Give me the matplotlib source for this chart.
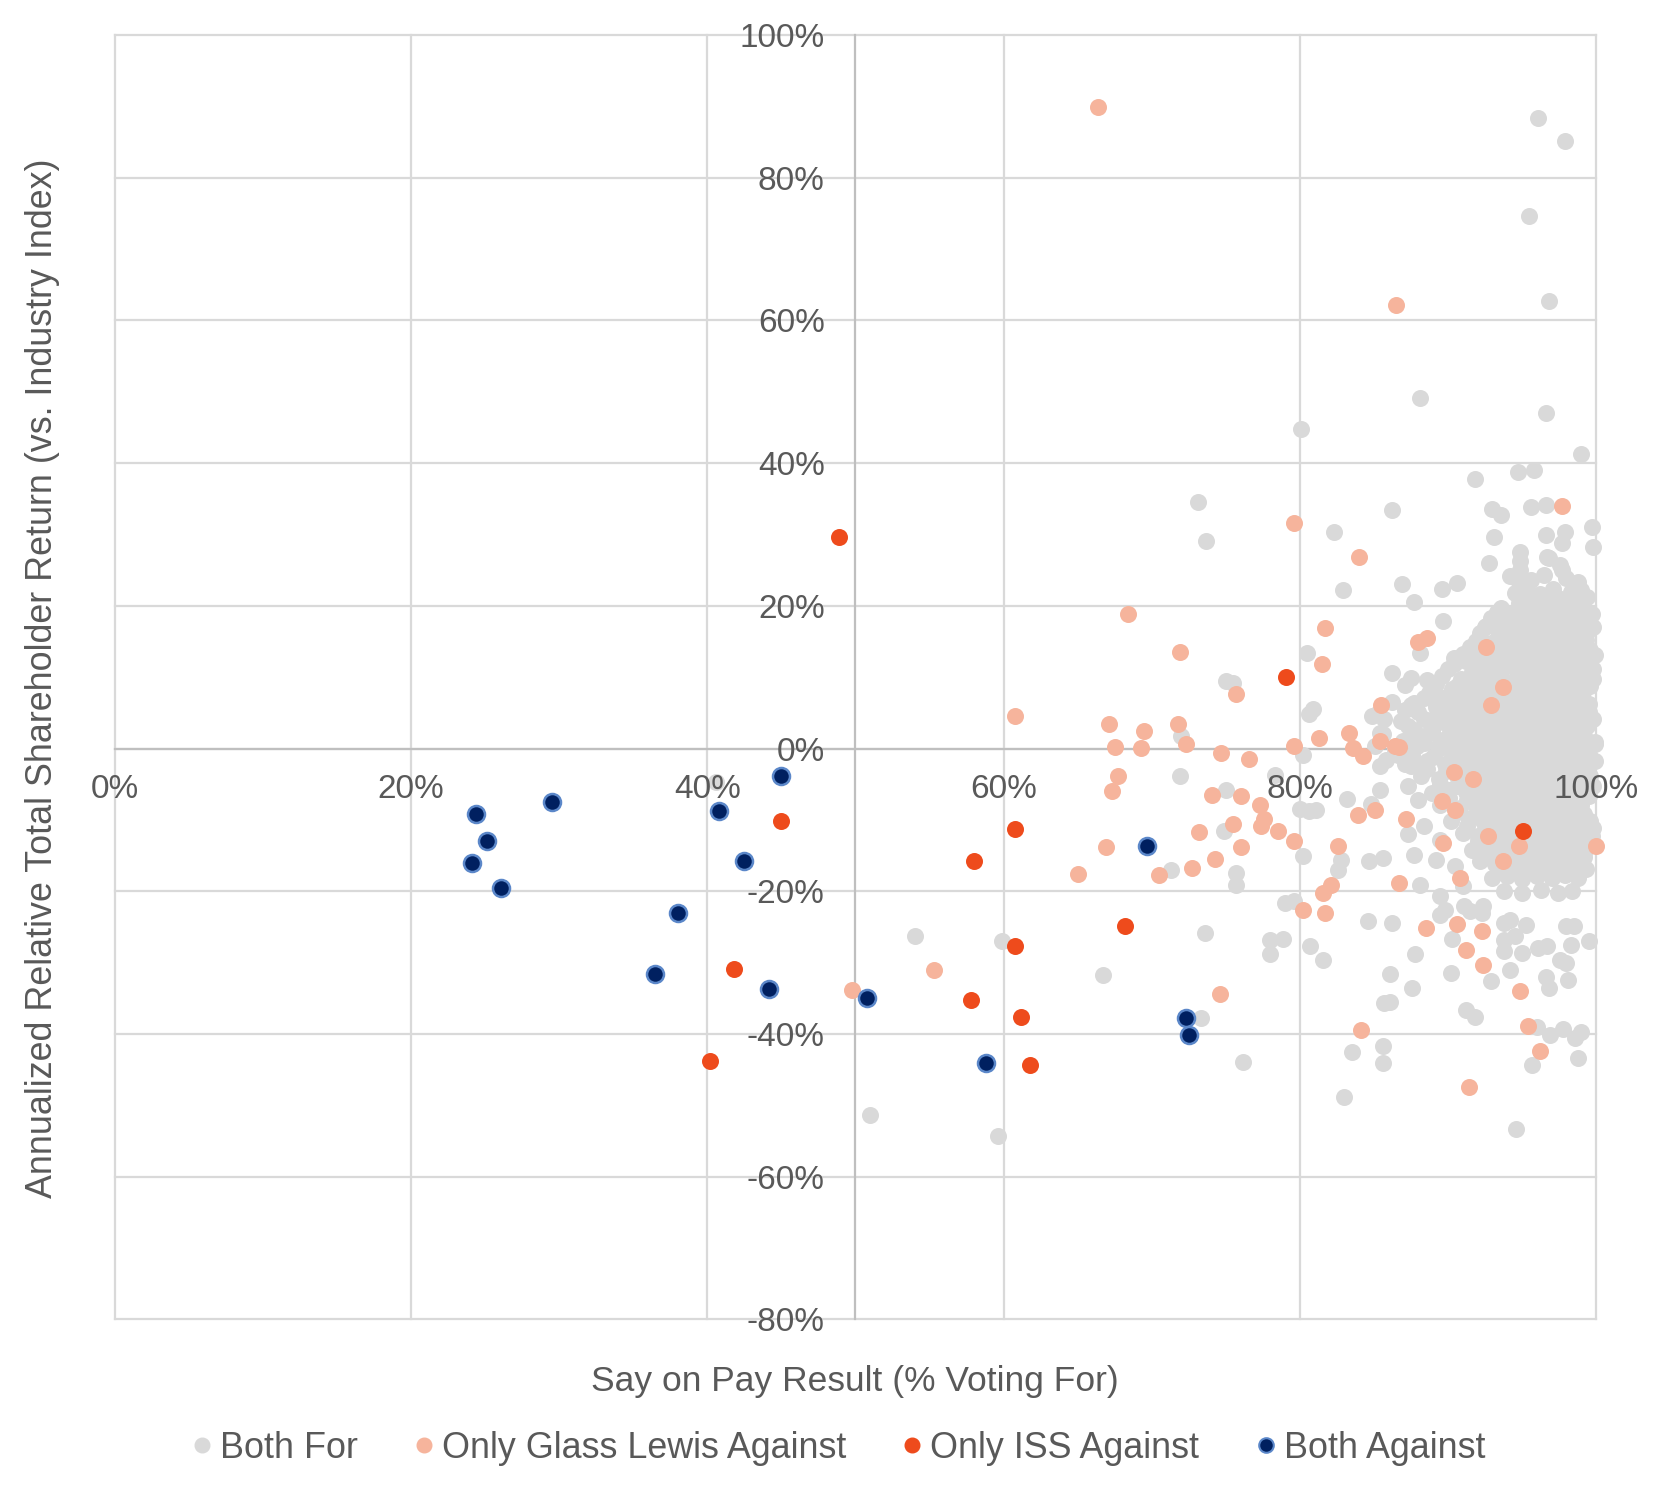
import matplotlib
matplotlib.use("Agg")
import matplotlib.pyplot as plt
from matplotlib.lines import Line2D

plt.rcParams['font.family'] = ['Liberation Sans', 'DejaVu Sans']

# ---------------- data (x = % voting for, y = relative TSR %) ----------------
both_against_x = [24.4, 25.1, 24.1, 26.1, 29.5, 40.8, 45.0, 42.5, 38.0, 36.5, 44.2, 50.8, 58.8, 69.7, 72.3, 72.5]
both_against_y = [-9.1, -12.9, -16.0, -19.6, -7.5, -8.7, -3.8, -15.8, -23.0, -31.6, -33.7, -34.9, -44.1, -13.7, -37.7, -40.2]

only_iss_x = [48.9, 45.0, 41.8, 40.2, 58.0, 60.8, 60.8, 57.8, 61.2, 61.8, 68.2, 79.1, 95.1]
only_iss_y = [29.6, -10.1, -30.9, -43.8, -15.8, -11.2, -27.6, -35.2, -37.6, -44.4, -24.8, 10.1, -11.6]

only_gl = [
    (66.4, 89.9), (86.5, 62.2), (97.7, 34.0), (79.6, 31.6), (84.0, 26.9), (68.4, 18.9),
    (81.7, 16.9), (88.0, 15.0), (88.6, 15.5), (71.9, 13.5), (81.5, 11.8), (75.7, 7.7),
    (92.6, 14.3), (93.7, 8.7), (92.9, 6.1), (85.5, 6.1), (60.8, 4.5), (67.1, 3.5),
    (71.8, 3.5), (69.5, 2.4), (67.5, 0.2), (69.3, 0.1), (72.3, 0.7), (81.3, 1.5),
    (83.3, 2.2), (79.6, 0.3), (83.6, 0.1), (84.3, -1.1), (85.4, 1.0), (86.4, 0.4),
    (86.7, 0.2), (74.7, -0.6), (76.6, -1.4), (67.7, -3.8), (67.3, -5.9), (74.1, -6.5),
    (76.0, -6.7), (77.3, -7.9), (90.4, -3.3), (91.7, -4.2), (89.6, -7.4), (90.5, -8.6),
    (83.9, -9.3), (85.1, -8.6), (75.5, -10.5), (73.2, -11.7), (77.6, -9.8), (77.4, -10.9),
    (78.5, -11.5), (79.6, -12.9), (82.6, -13.6), (76.0, -13.8), (74.3, -15.5), (72.7, -16.8),
    (70.5, -17.7), (66.9, -13.8), (65.0, -17.6), (87.2, -9.8), (89.7, -13.2), (92.7, -12.3),
    (94.8, -13.7), (93.7, -15.7), (90.8, -18.2), (86.7, -18.8), (100.0, -13.6), (81.6, -20.3),
    (82.1, -19.1), (80.2, -22.6), (81.7, -23.1), (88.5, -25.1), (90.6, -24.6), (92.3, -25.6),
    (91.2, -28.2), (92.4, -30.3), (94.9, -34.0), (95.4, -38.9), (96.2, -42.4), (84.1, -39.4),
    (91.4, -47.4), (74.6, -34.4), (55.3, -31.1), (49.8, -33.9),
]

both_for_sparse = [
    (96.1, 88.4), (97.9, 85.2), (95.5, 74.7), (96.8, 62.7), (88.1, 49.1), (96.6, 47.1),
    (80.1, 44.8), (99.0, 41.3), (91.8, 37.8), (94.7, 38.7), (95.8, 39.0), (73.1, 34.5),
    (73.7, 29.1), (86.2, 33.4), (82.3, 30.4), (93.0, 33.6), (93.6, 32.7), (95.6, 33.8),
    (96.6, 34.1), (93.1, 29.6), (96.6, 30.0), (97.9, 30.4), (97.7, 28.8), (99.7, 31.1),
    (99.8, 28.3), (94.9, 27.6), (92.8, 26.0), (96.8, 26.7), (97.7, 25.0), (94.9, 25.0),
    (94.8, 23.4), (82.9, 22.2), (86.9, 23.0), (87.7, 20.6), (89.6, 22.3), (90.6, 23.2),
    (98.8, 23.3), (98.3, 22.0), (98.7, 20.8), (89.7, 17.9), (80.5, 13.4), (88.1, 13.4),
    (90.4, 12.7), (91.7, 13.4), (75.0, 9.5), (75.5, 9.2), (86.2, 10.6), (87.5, 9.9),
    (87.1, 8.9), (88.6, 9.6), (86.2, 6.6), (85.2, 4.9), (87.7, 6.4), (89.5, 7.3),
    (89.1, 4.3), (87.7, 2.6), (88.4, 1.7), (89.5, 0.8), (85.4, 2.2), (85.1, 0.3),
    (80.6, 4.9), (80.9, 5.6), (80.2, -0.9), (72.0, 1.7), (71.9, -3.8), (75.0, -5.8),
    (78.3, -3.7), (80.0, -8.4), (85.4, -5.8), (87.3, -5.3), (88.0, -7.2), (88.4, -2.1),
    (87.5, -2.5), (85.4, -2.5), (83.2, -7.0), (80.6, -8.8), (81.1, -8.6), (74.9, -11.6),
    (75.7, -17.5), (75.7, -19.1), (71.3, -17.0), (88.4, -10.9), (87.3, -11.9), (85.6, -15.4),
    (84.7, -15.8), (87.7, -14.9), (89.2, -15.6), (89.5, -12.8), (90.5, -16.5), (82.6, -17.0),
    (82.8, -15.6), (91.0, -19.3), (84.8, -7.7), (88.1, -19.1), (84.6, -24.2), (86.2, -24.4),
    (87.8, -28.8), (86.1, -31.6), (87.6, -33.6), (85.7, -35.6), (86.1, -35.5), (90.2, -31.4),
    (92.9, -32.6), (94.2, -31.0), (91.2, -36.6), (91.8, -37.6), (83.5, -42.5), (85.6, -41.7),
    (85.6, -44.1), (83.0, -48.8), (94.6, -53.3), (95.7, -44.3), (98.8, -43.3), (96.0, -39.0),
    (96.9, -40.1), (97.8, -39.3), (98.6, -40.6), (99.0, -39.7), (99.5, -27.0), (93.8, -24.5),
    (94.2, -24.0), (95.3, -24.7), (93.8, -26.8), (94.5, -26.3), (95.0, -28.7), (93.8, -28.4),
    (96.1, -28.0), (96.7, -27.7), (98.0, -24.9), (98.5, -24.9), (97.6, -29.6), (98.0, -30.1),
    (98.3, -27.5), (96.6, -32.0), (96.8, -33.6), (98.1, -32.4), (90.3, -26.7), (89.5, -20.7),
    (89.8, -22.6), (89.5, -23.3), (91.1, -22.1), (91.5, -22.8), (92.3, -23.1), (92.4, -22.1),
    (73.6, -25.9), (66.7, -31.8), (73.3, -37.8), (76.2, -43.9), (80.2, -15.1), (79.0, -21.7),
    (79.6, -21.4), (78.0, -26.8), (78.9, -26.7), (78.0, -28.8), (80.7, -27.6), (81.6, -29.6),
    (40.6, -4.7), (54.0, -26.2), (59.9, -27.0), (51.0, -51.4), (59.6, -54.3), (99.9, 13.1),
    (99.9, 0.7), (85.8, -1.6), (86.6, -0.9), (84.9, 4.5), (85.7, 4.2), (87.1, 5.4),
    (87.8, 5.6), (89.5, 6.6), (91.1, 8.2), (92.5, 17.1), (93.1, 18.0), (94.4, 19.0),
    (91.9, 14.8), (91.5, 13.1),
]

both_for_core = [
    (94.9, 26.3), (97.6, 25.8), (96.7, 26.9),
    (94.2, 24.2), (95.6, 23.7), (96.5, 24.4), (98.0, 23.9),
    (94.5, 21.8), (95.3, 22.3), (96.2, 21.6), (97.1, 22.4), (98.4, 21.7), (99.0, 22.2),
    (93.6, 19.7), (94.8, 20.4), (95.8, 19.6), (96.6, 20.3), (97.5, 19.8), (98.3, 20.2), (99.2, 19.5),
    (92.9, 18.3), (93.8, 17.6), (94.6, 18.2), (95.5, 17.8), (96.4, 18.4), (97.2, 17.7), (98.1, 18.1), (98.9, 17.6),
    (92.2, 16.2), (93.4, 15.7), (94.2, 16.4), (95.1, 15.8), (96.0, 16.3), (96.9, 15.6), (97.8, 16.1), (98.6, 15.9), (99.4, 16.4),
    (91.5, 14.2), (92.6, 13.7), (93.6, 14.1), (94.5, 13.8), (95.4, 14.4), (96.3, 13.9), (97.2, 14.3), (98.0, 13.6), (98.8, 14.1), (99.6, 13.8),
    (90.4, 11.8), (91.2, 12.3), (92.3, 11.6), (93.2, 12.2), (94.1, 11.9), (95.0, 12.4), (95.9, 11.7), (96.8, 12.1), (97.7, 11.8), (98.5, 12.3), (99.3, 11.6),
    (89.6, 10.2), (90.9, 9.7), (91.8, 10.3), (92.7, 9.8), (93.6, 10.1), (94.5, 9.6), (95.4, 10.4), (96.3, 9.9), (97.2, 10.2), (98.1, 9.7), (99.0, 10.1), (99.8, 9.8),
    (88.7, 7.8), (90.3, 8.3), (91.2, 7.7), (92.1, 8.1), (93.0, 7.6), (93.9, 8.2), (94.8, 7.9), (95.7, 8.4), (96.6, 7.8), (97.5, 8.1), (98.4, 7.7), (99.2, 8.2),
    (87.5, 6.1), (89.2, 5.8), (90.6, 6.3), (91.5, 5.7), (92.4, 6.2), (93.3, 5.9), (94.2, 6.4), (95.1, 5.8), (96.0, 6.2), (96.9, 5.7), (97.8, 6.1), (98.7, 5.9), (99.5, 6.3),
    (86.8, 3.9), (88.4, 4.2), (89.7, 3.7), (90.9, 4.1), (91.8, 3.8), (92.7, 4.3), (93.6, 3.9), (94.5, 4.2), (95.4, 3.7), (96.3, 4.1), (97.2, 3.8), (98.1, 4.3), (99.0, 3.9), (99.8, 4.1),
    (85.6, 2.1), (87.7, 1.8), (88.9, 2.3), (90.1, 1.9), (91.1, 2.2), (92.0, 1.7), (92.9, 2.1), (93.8, 1.8), (94.7, 2.3), (95.6, 1.9), (96.5, 2.2), (97.4, 1.7), (98.3, 2.1), (99.2, 1.8),
    (86.4, -0.2), (87.9, 0.3), (89.3, -0.1), (90.4, 0.2), (91.4, -0.3), (92.3, 0.1), (93.2, -0.2), (94.1, 0.3), (95.0, -0.1), (95.9, 0.2), (96.8, -0.3), (97.7, 0.1), (98.6, -0.2), (99.5, 0.3),
    (87.1, -2.2), (88.6, -1.8), (89.8, -2.1), (90.9, -1.7), (91.8, -2.3), (92.7, -1.9), (93.6, -2.2), (94.5, -1.8), (95.4, -2.1), (96.3, -1.7), (97.2, -2.2), (98.1, -1.9), (99.0, -2.1), (99.9, -1.8),
    (88.2, -3.9), (89.4, -4.2), (90.6, -3.8), (91.5, -4.3), (92.4, -3.9), (93.3, -4.1), (94.2, -3.7), (95.1, -4.2), (96.0, -3.9), (96.9, -4.3), (97.8, -3.8), (98.7, -4.1), (99.6, -3.9),
    (88.9, -6.2), (90.1, -5.8), (91.2, -6.1), (92.1, -5.7), (93.0, -6.3), (93.9, -5.9), (94.8, -6.2), (95.7, -5.8), (96.6, -6.1), (97.5, -5.7), (98.4, -6.2), (99.3, -5.9),
    (89.5, -7.9), (90.8, -8.3), (91.8, -7.8), (92.7, -8.2), (93.6, -7.7), (94.5, -8.1), (95.4, -7.9), (96.3, -8.3), (97.2, -7.8), (98.1, -8.2), (99.0, -7.9),
    (90.2, -10.2), (91.4, -9.8), (92.4, -10.1), (93.3, -9.7), (94.2, -10.3), (95.1, -9.9), (96.0, -10.2), (96.9, -9.8), (97.8, -10.1), (98.7, -9.7), (99.6, -10.2),
    (91.0, -11.8), (92.0, -12.2), (93.0, -11.9), (93.9, -12.3), (94.8, -11.7), (96.1, -12.1), (97.0, -11.8), (97.9, -12.2), (98.8, -11.9), (99.7, -12.3),
    (91.6, -14.2), (92.6, -13.8), (93.5, -14.1), (94.4, -13.9), (95.6, -14.3), (96.6, -13.8), (97.5, -14.2), (98.4, -13.9), (99.3, -14.1),
    (92.2, -15.8), (93.2, -16.2), (94.1, -15.9), (95.2, -16.3), (96.2, -15.7), (97.1, -16.1), (98.0, -15.8), (98.9, -16.2),
    (93.0, -18.1), (94.0, -17.8), (95.0, -18.3), (96.0, -17.9), (97.0, -18.2), (97.9, -17.7), (98.8, -18.1),
    (93.8, -19.9), (95.0, -20.3), (96.3, -19.8), (97.4, -20.2), (98.4, -19.9),
]

both_for_core_fill = [
    (95.4, 21.2), (96.4, 20.8), (97.4, 21.1), (98.5, 20.7), (99.4, 21.3),
    (93.3, 19.1), (94.2, 18.8), (95.2, 19.2), (96.1, 18.9), (97.0, 19.3), (98.0, 18.7), (98.9, 19.1), (99.7, 18.8),
    (92.6, 17.2), (93.5, 16.8), (94.4, 17.1), (95.3, 16.7), (96.2, 17.3), (97.1, 16.9), (98.0, 17.2), (98.9, 16.8), (99.8, 17.1),
    (91.9, 15.1), (92.9, 14.8), (93.9, 15.2), (94.8, 14.9), (95.7, 15.3), (96.6, 14.7), (97.5, 15.1), (98.4, 14.8), (99.3, 15.2),
    (91.0, 13.2), (92.1, 12.8), (93.1, 13.1), (94.0, 12.7), (94.9, 13.3), (95.8, 12.9), (96.7, 13.2), (97.6, 12.8), (98.5, 13.1), (99.4, 12.7),
    (90.0, 11.1), (91.6, 10.8), (92.6, 11.2), (93.6, 10.9), (94.5, 11.3), (95.4, 10.7), (96.3, 11.1), (97.2, 10.8), (98.1, 11.2), (99.0, 10.9), (99.8, 11.2),
    (89.2, 9.1), (90.6, 8.8), (91.6, 9.2), (92.5, 8.9), (93.4, 9.3), (94.3, 8.7), (95.2, 9.1), (96.1, 8.8), (97.0, 9.2), (97.9, 8.9), (98.8, 9.3), (99.6, 8.8),
    (88.4, 7.1), (89.9, 6.8), (90.9, 7.2), (91.9, 6.9), (92.8, 7.3), (93.7, 6.7), (94.6, 7.1), (95.5, 6.8), (96.4, 7.2), (97.3, 6.9), (98.2, 7.3), (99.1, 6.8),
    (88.0, 5.1), (89.6, 4.8), (90.5, 5.2), (91.4, 4.9), (92.3, 5.3), (93.2, 4.7), (94.1, 5.1), (95.0, 4.8), (95.9, 5.2), (96.8, 4.9), (97.7, 5.3), (98.6, 4.8), (99.5, 5.1),
    (87.3, 3.1), (88.9, 2.8), (90.3, 3.2), (91.3, 2.9), (92.2, 3.3), (93.1, 2.7), (94.0, 3.1), (94.9, 2.8), (95.8, 3.2), (96.7, 2.9), (97.6, 3.3), (98.5, 2.8), (99.4, 3.1),
    (87.0, 1.1), (88.4, 0.8), (89.7, 1.2), (90.9, 0.9), (91.9, 1.3), (92.8, 0.7), (93.7, 1.1), (94.6, 0.8), (95.5, 1.2), (96.4, 0.9), (97.3, 1.3), (98.2, 0.8), (99.1, 1.1), (99.9, 0.9),
    (87.6, -0.9), (89.0, -1.2), (90.3, -0.8), (91.3, -1.1), (92.3, -0.7), (93.2, -1.3), (94.1, -0.9), (95.0, -1.2), (95.9, -0.8), (96.8, -1.1), (97.7, -0.7), (98.6, -1.2), (99.5, -0.9),
    (88.6, -2.9), (89.9, -3.2), (91.0, -2.8), (92.0, -3.1), (92.9, -2.7), (93.8, -3.3), (94.7, -2.9), (95.6, -3.2), (96.5, -2.8), (97.4, -3.1), (98.3, -2.7), (99.2, -3.2),
    (89.5, -4.9), (90.6, -5.2), (91.6, -4.8), (92.6, -5.1), (93.5, -4.7), (94.4, -5.3), (95.3, -4.9), (96.2, -5.2), (97.1, -4.8), (98.0, -5.1), (98.9, -4.7), (99.8, -5.2),
    (90.1, -6.9), (91.3, -7.2), (92.3, -6.8), (93.2, -7.1), (94.1, -6.7), (95.0, -7.3), (95.9, -6.9), (96.8, -7.2), (97.7, -6.8), (98.6, -7.1), (99.5, -6.7),
    (90.7, -8.9), (91.9, -9.2), (92.9, -8.8), (93.8, -9.1), (94.7, -8.7), (95.6, -9.3), (96.5, -8.9), (97.4, -9.2), (98.3, -8.8), (99.2, -9.1),
    (91.3, -10.9), (92.5, -11.2), (93.5, -10.8), (94.4, -11.1), (95.3, -10.7), (96.2, -11.3), (97.1, -10.9), (98.0, -11.2), (98.9, -10.8), (99.8, -11.1),
    (92.0, -12.9), (93.1, -13.2), (94.1, -12.8), (95.0, -13.1), (95.9, -12.7), (96.8, -13.3), (97.7, -12.9), (98.6, -13.2), (99.5, -12.8),
    (92.7, -14.9), (93.7, -15.2), (94.7, -14.8), (95.6, -15.1), (96.5, -14.7), (97.4, -15.3), (98.3, -14.9), (99.2, -15.2),
    (93.4, -16.9), (94.5, -17.2), (95.5, -16.8), (96.5, -17.1), (97.5, -16.7), (98.4, -17.3), (99.3, -16.9),
]

series_names = ["Both For", "Only Glass Lewis Against", "Only ISS Against", "Both Against"]
x_ticks = [0, 20, 40, 60, 80, 100]
y_ticks = [-80, -60, -40, -20, 0, 20, 40, 60, 80, 100]
x_title = "Say on Pay Result (% Voting For)"
y_title = "Annualized Relative Total Shareholder Return (vs. Industry Index)"

# ---------------- styling ----------------
C_GRAY = '#D9D9D9'
C_GL = '#F6B49C'
C_ISS = '#EE4B1C'
C_BOTH = '#002060'
C_BOTH_EDGE = '#5B87C9'
TXT = '#595959'
GRID = '#D9D9D9'
FS = 24

fig = plt.figure(figsize=(16.66, 15), dpi=100)
fig.patch.set_facecolor('white')
ax = fig.add_axes([0.0689, 0.1204, 0.8891, 0.8562])
ax.set_xlim(0, 100)
ax.set_ylim(-80, 100)
ax.set_xticks(x_ticks)
ax.set_yticks(y_ticks)
ax.set_xticklabels([f"{v}%" for v in x_ticks])
ax.set_yticklabels([f"{v}%" for v in y_ticks])
ax.grid(False)
for v in x_ticks:
    ax.axvline(v, color=GRID, lw=1.6, zorder=0.3, clip_on=False)
for v in y_ticks:
    ax.axhline(v, color=GRID, lw=1.6, zorder=0.3, clip_on=False)

for s in ['top', 'right']:
    ax.spines[s].set_visible(False)
ax.spines['left'].set_position(('data', 50))
ax.spines['bottom'].set_position(('data', 0))
for s in ['left', 'bottom']:
    ax.spines[s].set_color('#BFBFBF')
    ax.spines[s].set_linewidth(1.6)
    ax.spines[s].set_zorder(0.5)

ax.tick_params(axis='both', length=0, labelsize=FS, labelcolor=TXT)
ax.tick_params(axis='x', pad=18)
ax.tick_params(axis='y', pad=22)
ax.xaxis.set_zorder(10)
ax.yaxis.set_zorder(10)

S = 150
gray_pts = both_for_sparse + both_for_core + both_for_core_fill
ax.scatter([p[0] for p in gray_pts], [p[1] for p in gray_pts], s=S, color=C_GRAY,
           linewidths=0, zorder=2, clip_on=False)
ax.scatter([p[0] for p in only_gl], [p[1] for p in only_gl], s=S, color=C_GL,
           linewidths=0, zorder=3, clip_on=False)
ax.scatter(only_iss_x, only_iss_y, s=S, color=C_ISS, linewidths=0, zorder=4)
ax.scatter(both_against_x, both_against_y, s=S, facecolor=C_BOTH, edgecolor=C_BOTH_EDGE,
           linewidths=1.8, zorder=5)

fig.text(0.513, 0.0793, x_title, ha='center', va='center', fontsize=25.5, color=TXT)
fig.text(0.0255, 0.5475, y_title, ha='center', va='center', rotation=90, fontsize=25.8, color=TXT)

handles = [
    Line2D([], [], ls='none', marker='o', ms=10.5, mfc=C_GRAY, mec=C_GRAY),
    Line2D([], [], ls='none', marker='o', ms=10.5, mfc=C_GL, mec=C_GL),
    Line2D([], [], ls='none', marker='o', ms=10.5, mfc=C_ISS, mec=C_ISS),
    Line2D([], [], ls='none', marker='o', ms=10.5, mfc=C_BOTH, mec=C_BOTH_EDGE, mew=1.5),
]
leg = fig.legend(handles, series_names, loc='center', bbox_to_anchor=(0.503, 0.0345),
                 ncol=4, frameon=False, fontsize=25.8, handlelength=0.6, handletextpad=0.2,
                 columnspacing=1.55, labelcolor=TXT)

fig.savefig('out.png', dpi=100, facecolor='white')
